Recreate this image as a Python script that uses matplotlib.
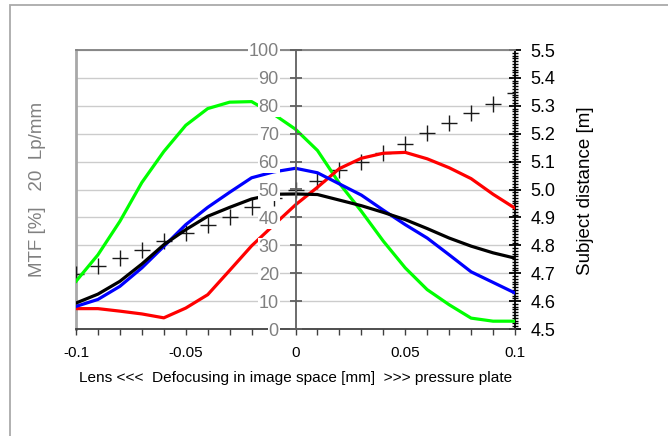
import matplotlib
matplotlib.use("Agg")
import matplotlib.pyplot as plt
from matplotlib.patches import Rectangle
from matplotlib.ticker import MultipleLocator, FixedLocator

plt.rcParams['font.family'] = ['Liberation Sans', 'DejaVu Sans']
plt.rcParams['axes.unicode_minus'] = False

# ---------------- data ----------------
defocus = [-0.10, -0.09, -0.08, -0.07, -0.06, -0.05, -0.04, -0.03, -0.02, -0.01,
           0.00, 0.01, 0.02, 0.03, 0.04, 0.05, 0.06, 0.07, 0.08, 0.09, 0.10]

mtf_green = [17.1, 26.6, 38.6, 52.5, 63.6, 73.0, 79.0, 81.3, 81.5, 77.0,
             71.6, 64.0, 52.2, 42.2, 31.5, 21.9, 14.1, 8.7, 3.9, 2.8, 2.8]
mtf_blue = [8.1, 10.6, 15.3, 21.9, 29.6, 37.4, 43.6, 49.0, 54.2, 56.3,
            57.6, 56.0, 52.0, 48.0, 42.6, 37.4, 32.6, 26.6, 20.5, 16.7, 12.9]
mtf_red = [7.3, 7.3, 6.4, 5.4, 4.0, 7.5, 12.3, 21.0, 29.8, 37.2,
           44.5, 50.8, 57.5, 61.2, 63.0, 63.3, 61.0, 57.8, 53.9, 48.3, 43.3]
mtf_black = [9.3, 12.5, 17.1, 23.3, 30.2, 35.6, 40.4, 43.6, 46.6, 48.3,
             48.4, 48.2, 46.2, 44.2, 41.8, 39.2, 36.0, 32.6, 29.7, 27.3, 25.4]
subject_distance = [4.697, 4.727, 4.754, 4.784, 4.816, 4.844, 4.873, 4.901, 4.938, 4.970,
                    4.998, 5.032, 5.070, 5.099, 5.131, 5.163, 5.203, 5.238, 5.274, 5.306, 5.346]

x_ticks = [-0.1, -0.05, 0.0, 0.05, 0.1]
x_tick_labels = ["-0.1", "-0.05", "0", "0.05", "0.1"]
mtf_ticks = [0, 10, 20, 30, 40, 50, 60, 70, 80, 90, 100]
mtf_tick_labels = ["0", "10", "20", "30", "40", "50", "60", "70", "80", "90", "100"]
dist_ticks = [4.5, 4.6, 4.7, 4.8, 4.9, 5.0, 5.1, 5.2, 5.3, 5.4, 5.5]
dist_tick_labels = ["4.5", "4.6", "4.7", "4.8", "4.9", "5.0", "5.1", "5.2", "5.3", "5.4", "5.5"]

# ---------------- figure ----------------
W, H = 668, 436
fig = plt.figure(figsize=(W / 100, H / 100), dpi=100)
fig.patch.set_facecolor('white')

left, right, top, bottom = 76, 515, 50, 329
rect = [left / W, (H - bottom) / H, (right - left) / W, (bottom - top) / H]
ax = fig.add_axes(rect)
ax2 = ax.twinx()

# ax2 (distance axis + grid) drawn below ax (curves + MTF labels)
ax2.set_zorder(ax.get_zorder() - 1)
ax.patch.set_visible(False)
ax2.patch.set_facecolor('white')

ax.set_xlim(-0.1, 0.1)
ax.set_ylim(0, 100)
ax2.set_ylim(4.5, 5.5)

# grid on ax2
ax2.yaxis.set_major_locator(FixedLocator(dist_ticks))
ax2.set_yticklabels(dist_tick_labels)
ax2.yaxis.set_minor_locator(MultipleLocator(0.01))
ax2.grid(True, which='major', axis='both', color='#cccccc', lw=1.0)
ax2.set_axisbelow(True)

# subject distance crosses
ax2.plot(defocus, subject_distance, ls='none', marker='+', ms=12, mew=1.0,
         color='#1a1a1a', zorder=3)

# MTF curves
lw = 2.3
ax.plot(defocus, mtf_green, color='#00ff00', lw=lw, zorder=2)
ax.plot(defocus, mtf_red, color='#ff0000', lw=lw, zorder=2)
ax.plot(defocus, mtf_blue, color='#0000ff', lw=lw, zorder=2)
ax.plot(defocus, mtf_black, color='#000000', lw=lw, zorder=2)

# x axis
ax.xaxis.set_major_locator(FixedLocator(x_ticks))
ax.set_xticklabels(x_tick_labels)
ax.xaxis.set_minor_locator(MultipleLocator(0.01))
ax.tick_params(axis='x', which='both', direction='out', length=4.5, width=1,
               color='#404040', labelsize=11, pad=8, labelcolor='black')
ax.set_xlabel("Lens <<<  Defocusing in image space [mm]  >>> pressure plate",
              fontsize=11.1, labelpad=8, color='black')

# center MTF axis
ax.spines['left'].set_position(('data', 0))
ax.spines['left'].set_color('#606060')
ax.spines['left'].set_linewidth(1.3)
ax.yaxis.set_major_locator(FixedLocator(mtf_ticks))
ax.set_yticklabels(mtf_tick_labels)
ax.tick_params(axis='y', which='major', direction='inout', length=8, width=1.3,
               color='#606060', labelsize=13, labelcolor='#808080', pad=8)
ax.yaxis.set_zorder(2.6)
for t in ax.get_yticklabels():
    t.set_bbox(dict(facecolor='white', edgecolor='none', pad=0.5))

ax.spines['right'].set_visible(False)
ax.spines['top'].set_color('#808080')
ax.spines['top'].set_linewidth(1.3)
ax.spines['bottom'].set_color('#404040')
ax.spines['bottom'].set_linewidth(1.3)

# right distance axis
for s in ['top', 'bottom']:
    ax2.spines[s].set_visible(False)
ax2.spines['left'].set_color('#a8a8a8')
ax2.spines['left'].set_linewidth(2)
ax2.spines['right'].set_color('black')
ax2.spines['right'].set_linewidth(1.3)
ax2.tick_params(axis='y', which='major', direction='inout', length=8, width=1.3,
                color='black', labelsize=13, labelcolor='black', pad=7)
ax2.tick_params(axis='y', which='minor', direction='inout', length=4, width=1,
                color='black')
ax2.tick_params(axis='x', which='both', length=0, labelbottom=False)

# axis titles
fig.text(38 / W, 1 - 189.5 / H, "MTF [%]   20  Lp/mm", rotation=90,
         ha='center', va='center', fontsize=13.5, color='#808080')
fig.text(586 / W, 1 - 190.5 / H, "Subject distance [m]", rotation=90,
         ha='center', va='center', fontsize=13.5, color='black')

# outer frame (partly beyond the canvas)
fig.patches.append(Rectangle((10 / W, -0.5), 2.0, (1 - 5 / H) + 0.5,
                             transform=fig.transFigure, fill=False,
                             edgecolor='#aaaaaa', lw=1.3, zorder=0))

fig.savefig("out.png", dpi=100)
